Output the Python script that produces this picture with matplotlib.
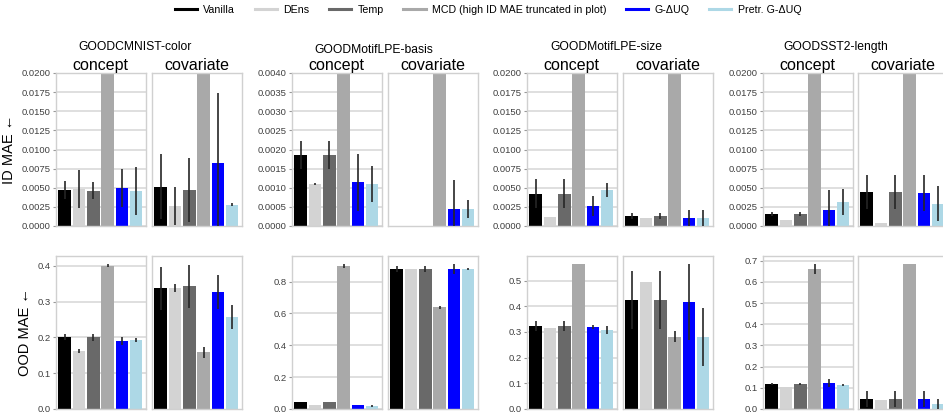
import matplotlib
matplotlib.use('Agg')
import matplotlib.pyplot as plt
from matplotlib.lines import Line2D
from matplotlib.ticker import FormatStrFormatter, MultipleLocator

plt.rcParams['font.family'] = ['Liberation Sans', 'DejaVu Sans']

# datasets, splits and methods
datasets = ['GOODCMNIST-color', 'GOODMotifLPE-basis', 'GOODMotifLPE-size', 'GOODSST2-length']
splits = ['concept', 'covariate']
methods = ['Vanilla', 'DEns', 'Temp', 'MCD (high ID MAE truncated in plot)', 'G-ΔUQ', 'Pretr. G-ΔUQ']
colors = ['black', 'lightgray', 'dimgray', 'darkgray', 'blue', 'lightblue']
row_labels = ['ID MAE ←', 'OOD MAE ←']

# ID MAE (MCD values are far above the plotted range -> truncated)
id_concept = [
    [0.0047, 0.00485, 0.0046, 0.05, 0.0050, 0.0046],
    [0.00186, 0.0011, 0.00186, 0.01, 0.00114, 0.0011],
    [0.0042, 0.00118, 0.0042, 0.05, 0.00262, 0.00472],
    [0.00157, 0.00079, 0.00157, 0.05, 0.0021, 0.00314],
]
id_concept_err = [
    [0.0012, 0.0025, 0.0011, 0.0, 0.0025, 0.0031],
    [0.00036, 0.00002, 0.00036, 0.0, 0.00075, 0.00046],
    [0.0019, 0.00005, 0.0019, 0.0, 0.0013, 0.00093],
    [0.0003, 0.00005, 0.0003, 0.0, 0.0026, 0.0017],
]
id_covariate = [
    [0.00515, 0.00266, 0.0047, 0.05, 0.0083, 0.0028],
    [0.00001, 0.00001, 0.00001, 0.01, 0.000445, 0.000445],
    [0.00131, 0.00105, 0.00131, 0.05, 0.00105, 0.00105],
    [0.00445, 0.0004, 0.00445, 0.05, 0.00432, 0.0029],
]
id_covariate_err = [
    [0.0042, 0.0025, 0.0042, 0.0, 0.0091, 0.0002],
    [0.0, 0.0, 0.0, 0.0, 0.00075, 0.00023],
    [0.0004, 0.00003, 0.0004, 0.0, 0.0011, 0.0011],
    [0.0022, 0.00003, 0.0022, 0.0, 0.0023, 0.0023],
]

# OOD MAE
ood_concept = [
    [0.200, 0.162, 0.200, 0.400, 0.190, 0.193],
    [0.044, 0.025, 0.044, 0.898, 0.025, 0.019],
    [0.323, 0.316, 0.323, 0.564, 0.320, 0.308],
    [0.118, 0.104, 0.118, 0.661, 0.123, 0.113],
]
ood_concept_err = [
    [0.008, 0.005, 0.010, 0.004, 0.010, 0.005],
    [0.002, 0.003, 0.002, 0.010, 0.001, 0.007],
    [0.020, 0.001, 0.020, 0.001, 0.008, 0.015],
    [0.004, 0.001, 0.006, 0.023, 0.018, 0.004],
]
ood_covariate = [
    [0.337, 0.337, 0.343, 0.158, 0.327, 0.257],
    [0.880, 0.880, 0.880, 0.639, 0.880, 0.880],
    [0.425, 0.495, 0.425, 0.281, 0.417, 0.281],
    [0.047, 0.042, 0.047, 0.683, 0.047, 0.024],
]
ood_covariate_err = [
    [0.060, 0.011, 0.060, 0.015, 0.047, 0.034],
    [0.019, 0.002, 0.019, 0.008, 0.030, 0.007],
    [0.113, 0.001, 0.113, 0.021, 0.149, 0.114],
    [0.038, 0.001, 0.037, 0.001, 0.037, 0.024],
]

id_ylim = [0.02, 0.004, 0.02, 0.02]
id_step = [0.0025, 0.0005, 0.0025, 0.0025]
ood_ylim = [0.427, 0.961, 0.596, 0.722]
ood_step = [0.1, 0.2, 0.1, 0.1]

W, H = 943, 417
fig = plt.figure(figsize=(W / 100, H / 100), dpi=100)

concept_left = [56, 292, 527, 763]
covariate_left = [152, 388, 623, 858]
panel_w = 89.5
row_top = [73, 256]
row_h = 153
title_x = [135, 374, 606, 836]
title_y = [47, 50, 47, 47]

x = list(range(len(methods)))
rows = [
    (id_concept, id_concept_err, id_covariate, id_covariate_err, id_ylim, id_step, '%.4f'),
    (ood_concept, ood_concept_err, ood_covariate, ood_covariate_err, ood_ylim, ood_step, '%.1f'),
]

for r, (c_m, c_e, v_m, v_e, ylims, steps, fmt) in enumerate(rows):
    for d in range(len(datasets)):
        for s, split in enumerate(splits):
            left = concept_left[d] if s == 0 else covariate_left[d]
            rect = [left / W, 1 - (row_top[r] + row_h) / H, panel_w / W, row_h / H]
            ax = fig.add_axes(rect)
            means = c_m[d] if s == 0 else v_m[d]
            errs = c_e[d] if s == 0 else v_e[d]
            ax.bar(x, means, width=0.88, color=colors, zorder=2)
            ax.errorbar(x, means, yerr=errs, fmt='none', ecolor='0.15',
                        elinewidth=1.2, zorder=3)
            ax.set_xlim(-0.6, 5.65)
            ax.set_ylim(0, ylims[d])
            ax.set_xticks([])
            for sp in ax.spines.values():
                sp.set_color('#d0d0d0')
                sp.set_linewidth(1.0)
            if s == 0:
                ax.yaxis.set_major_locator(MultipleLocator(steps[d]))
                ax.yaxis.set_major_formatter(FormatStrFormatter(fmt))
                ax.tick_params(axis='y', labelsize=6.8, labelcolor='0.25',
                               color='0.6', length=2.5, width=0.8, pad=1.5)
                ax.grid(axis='y', color='#dcdcdc', linewidth=1.3, zorder=0)
                ax.set_axisbelow(True)
                if d == 0:
                    ax.set_ylabel(row_labels[r], fontsize=10.5, labelpad=4)
            else:
                ax.set_yticks([])
            if r == 0:
                ax.set_title(split, fontsize=11.5, pad=2.5)

for d, name in enumerate(datasets):
    fig.text(title_x[d] / W, 1 - title_y[d] / H, name, ha='center', va='center', fontsize=8.7)

handles = [Line2D([0], [0], color=c, lw=2.2) for c in colors]
fig.legend(handles, methods, loc='center', bbox_to_anchor=(488 / W, 1 - 10 / H),
           ncol=6, frameon=False, fontsize=7.7, handlelength=2.1,
           handletextpad=0.6, columnspacing=1.8)

fig.savefig('out.png', dpi=100)
